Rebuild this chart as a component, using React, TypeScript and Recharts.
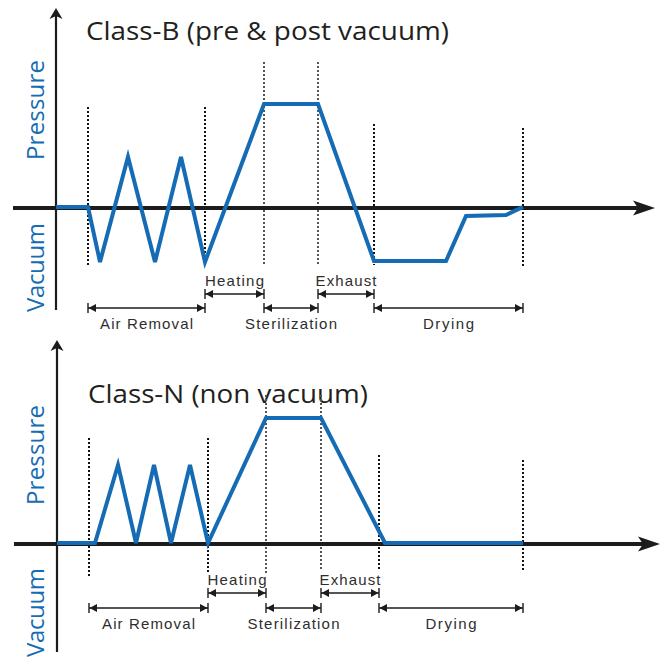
import React from 'react';
import { LineChart, Line, XAxis, YAxis, ReferenceLine } from 'recharts';

// ---------- data ----------
// Class-B (pre & post vacuum): time (arbitrary units) vs chamber pressure (relative units)
const classBTime = [0, 8, 11, 18, 24.75, 31.25, 37.25, 52, 65.5, 79.5, 97.5, 102.5, 112.5, 116.75];
const classBPressure = [0, 0, -5.5, 5.0, -5.5, 5.0, -5.5, 10.3, 10.3, -5.4, -5.4, -0.9, -0.8, 0];

// Class-N (non vacuum)
const classNTime = [0, 9.5, 15.25, 19.75, 24.25, 28.5, 33.25, 37.75, 52.25, 66, 82, 116.5];
const classNPressure = [0, 0, 7.8, 0, 7.8, 0, 7.8, 0, 12.5, 12.5, 0, 0];

// phase boundaries (time) and the extent of their dotted guide lines (pressure units)
const classBBoundaries = [8, 37.25, 52, 65.5, 79.5, 116.75];
const classBBoundaryTop = [10.0, 10.0, 14.5, 14.5, 8.3, 7.9];
const classBBoundaryBottom = [-5.8, -5.8, -5.8, -5.8, -5.8, -5.9];

const classNBoundaries = [8, 37.75, 52.25, 66, 80.5, 116.5];
const classNBoundaryTop = [10.5, 10.5, 14.8, 14.8, 8.8, 8.3];
const classNBoundaryBottom = [-3.4, -3.0, -3.2, -2.8, -2.8, -2.7];

const phaseNames = ['Air Removal', 'Heating', 'Sterilization', 'Exhaust', 'Drying'];
const phaseRow: ('above' | 'below')[] = ['below', 'above', 'below', 'above', 'below'];

const classBPhaseLevel = { above: -8.7, below: -10.1 };
const classNPhaseLevel = { above: -5.0, below: -6.5 };

const titles = ['Class-B (pre & post vacuum)', 'Class-N (non vacuum)'];
const sideLabels = ['Pressure', 'Vacuum'];

// ---------- styles ----------
const BLUE = '#156bb4';
const INK = '#1c1c1c';
const LABEL = '#2e2e2e';

const buildData = (t: number[], p: number[]) => t.map((v, i) => ({ t: v, p: p[i] }));

const labelWidths: Record<string, number> = {
  'Air Removal': 93,
  Heating: 59,
  Sterilization: 92,
  Exhaust: 61,
  Drying: 51,
};

const spanShape = (label: string, pos: 'above' | 'below') => (props: any) => {
  const xa = Math.min(props.x1, props.x2);
  const xb = Math.max(props.x1, props.x2);
  const y = props.y1;
  return (
    <g>
      <line x1={xa} y1={y} x2={xb} y2={y} stroke={INK} strokeWidth={1.3} />
      <line x1={xa} y1={y - 5} x2={xa} y2={y + 5} stroke={INK} strokeWidth={1.4} />
      <line x1={xb} y1={y - 5} x2={xb} y2={y + 5} stroke={INK} strokeWidth={1.4} />
      <polygon points={`${xa + 0.5},${y} ${xa + 8},${y - 4} ${xa + 8},${y + 4}`} fill={INK} />
      <polygon points={`${xb - 0.5},${y} ${xb - 8},${y - 4} ${xb - 8},${y + 4}`} fill={INK} />
      <text
        x={(xa + xb) / 2}
        y={pos === 'above' ? y - 8 : y + 21}
        textAnchor="middle"
        fontFamily="'Liberation Sans', Arial, sans-serif"
        fontSize={15}
        fill={LABEL}
        textLength={labelWidths[label]}
        lengthAdjust="spacing"
      >
        {label}
      </text>
    </g>
  );
};

const hAxisShape = (props: any) => {
  const { x1, x2, y1 } = props;
  const y = y1 + 1;
  return (
    <g>
      <line x1={x1} y1={y} x2={x2 - 14} y2={y} stroke={INK} strokeWidth={3.8} />
      <polygon points={`${x2},${y} ${x2 - 22},${y - 7.5} ${x2 - 17},${y} ${x2 - 22},${y + 7.5}`} fill={INK} />
    </g>
  );
};

const vAxisShape = (props: any) => {
  const x = props.x1;
  const yTop = Math.min(props.y1, props.y2);
  const yBot = Math.max(props.y1, props.y2);
  return (
    <g>
      <line x1={x} y1={yTop + 8} x2={x} y2={yBot} stroke={INK} strokeWidth={2.2} />
      <polygon points={`${x},${yTop} ${x - 6.5},${yTop + 11} ${x},${yTop + 8} ${x + 6.5},${yTop + 11}`} fill={INK} />
    </g>
  );
};

type PanelProps = {
  data: { t: number; p: number }[];
  width: number;
  height: number;
  xDomain: [number, number];
  yDomain: [number, number];
  hAxis: [number, number];
  vAxis: [number, number];
  boundaries: number[];
  bTop: number[];
  bBottom: number[];
  level: { above: number; below: number };
};

const Panel = (pp: PanelProps) => (
  <LineChart
    width={pp.width}
    height={pp.height}
    data={pp.data}
    margin={{ top: 0, right: 0, bottom: 0, left: 0 }}
    style={{ overflow: 'visible' }}
  >
    <XAxis type="number" dataKey="t" domain={pp.xDomain} allowDataOverflow hide />
    <YAxis type="number" dataKey="p" domain={pp.yDomain} allowDataOverflow hide />
    {pp.boundaries.map((b, i) => (
      <ReferenceLine
        key={`b${i}`}
        segment={[
          { x: b, y: pp.bTop[i] },
          { x: b, y: pp.bBottom[i] },
        ]}
        stroke={i === 2 || i === 3 ? '#555555' : '#111111'}
        strokeWidth={2}
        strokeDasharray="2 2"
        ifOverflow="visible"
      />
    ))}
    <ReferenceLine
      segment={[
        { x: pp.hAxis[0], y: 0 },
        { x: pp.hAxis[1], y: 0 },
      ]}
      shape={hAxisShape}
      ifOverflow="visible"
    />
    <ReferenceLine
      segment={[
        { x: 0, y: pp.vAxis[0] },
        { x: 0, y: pp.vAxis[1] },
      ]}
      shape={vAxisShape}
      ifOverflow="visible"
    />
    {phaseNames.map((name, i) => (
      <ReferenceLine
        key={`ph${i}`}
        segment={[
          { x: pp.boundaries[i], y: pp.level[phaseRow[i]] },
          { x: pp.boundaries[i + 1], y: pp.level[phaseRow[i]] },
        ]}
        shape={spanShape(name, phaseRow[i])}
        ifOverflow="visible"
      />
    ))}
    <Line
      type="linear"
      dataKey="p"
      stroke={BLUE}
      strokeWidth={4}
      strokeLinejoin="miter"
      dot={false}
      activeDot={false}
      isAnimationActive={false}
    />
  </LineChart>
);

const titleFont = "'Open Sans', 'Noto Sans', sans-serif";

export default function App() {
  return (
    <div style={{ position: 'absolute', left: 0, top: 0, width: 665, height: 657, overflow: 'hidden', background: '#fff' }}>
      <svg width={665} height={657} style={{ position: 'absolute', left: 0, top: 0 }}>
        <text x={86} y={40} fontFamily={titleFont} fontSize={25} fill="#231f20" textLength={363} lengthAdjust="spacingAndGlyphs">
          {titles[0]}
        </text>
        <text x={88} y={403} fontFamily={titleFont} fontSize={25} fill="#231f20" textLength={280} lengthAdjust="spacingAndGlyphs">
          {titles[1]}
        </text>
        <text transform="translate(44,160) rotate(-90)" fontFamily={titleFont} fontSize={24} fill={BLUE} textLength={100} lengthAdjust="spacing">
          {sideLabels[0]}
        </text>
        <text transform="translate(44,312) rotate(-90)" fontFamily={titleFont} fontSize={24} fill={BLUE} textLength={89} lengthAdjust="spacing">
          {sideLabels[1]}
        </text>
        <text transform="translate(44,505) rotate(-90)" fontFamily={titleFont} fontSize={24} fill={BLUE} textLength={100} lengthAdjust="spacing">
          {sideLabels[0]}
        </text>
        <text transform="translate(44,657) rotate(-90)" fontFamily={titleFont} fontSize={24} fill={BLUE} textLength={89} lengthAdjust="spacing">
          {sideLabels[1]}
        </text>
      </svg>
      <div style={{ position: 'absolute', left: 0, top: 0 }}>
        <Panel
          data={buildData(classBTime, classBPressure)}
          width={665}
          height={340}
          xDomain={[-14, 152.25]}
          yDomain={[-13.3, 20.7]}
          hAxis={[-10.75, 149.75]}
          vAxis={[19.9, -10.3]}
          boundaries={classBBoundaries}
          bTop={classBBoundaryTop}
          bBottom={classBBoundaryBottom}
          level={classBPhaseLevel}
        />
      </div>
      <div style={{ position: 'absolute', left: 0, top: 330 }}>
        <Panel
          data={buildData(classNTime, classNPressure)}
          width={665}
          height={327}
          xDomain={[-14.25, 152.0]}
          yDomain={[-11.4, 21.3]}
          hAxis={[-10.75, 150.75]}
          vAxis={[20.3, -10.9]}
          boundaries={classNBoundaries}
          bTop={classNBoundaryTop}
          bBottom={classNBoundaryBottom}
          level={classNPhaseLevel}
        />
      </div>
    </div>
  );
}
